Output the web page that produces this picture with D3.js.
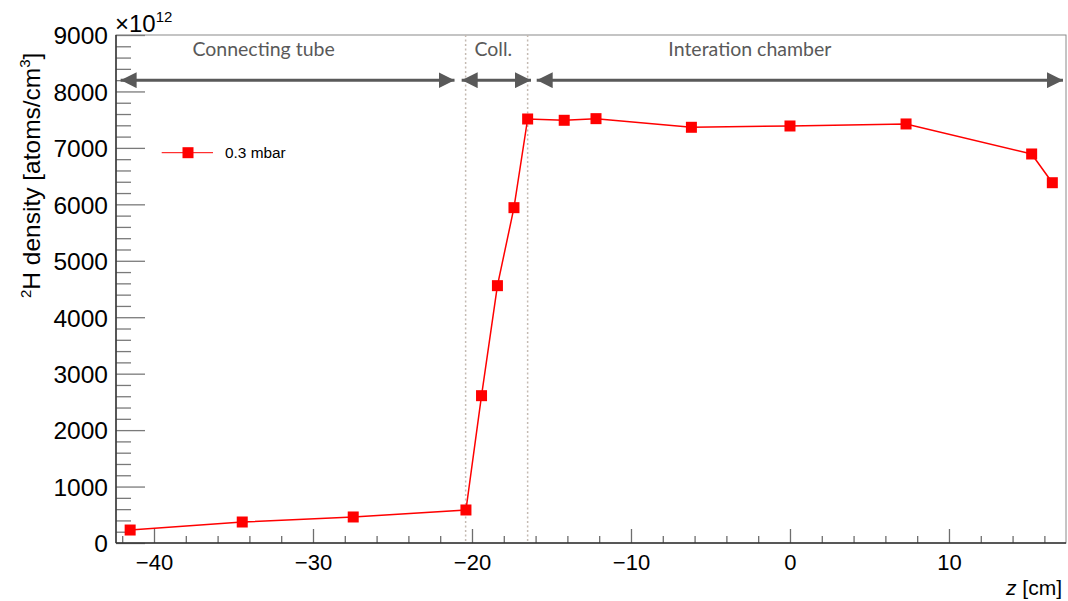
<!DOCTYPE html>
<html>
<head>
<meta charset="utf-8">
<script src="https://cdn.jsdelivr.net/npm/d3@7"></script>
<style>
  html, body { margin: 0; padding: 0; background: #fff; }
  svg { display: block; }
</style>
</head>
<body>
<svg id="chart" width="1068" height="601"></svg>
<script>
// Deuterium density profile along the target axis (0.3 mbar)
const zPositions = [-41.5, -34.45, -27.47, -20.38, -19.4, -18.4, -17.36, -16.5, -14.2, -12.2, -6.2, 0.0, 7.3, 15.2, 16.5];
const densities  = [230, 372, 461, 585, 2610, 4559, 5941, 7512, 7489, 7518, 7365, 7388, 7424, 6892, 6383];
const seriesLabel = "0.3 mbar";

// Region boundaries and labelled spans
const boundaries = [-20.4, -16.5];
const regionNames = ["Connecting tube", "Coll.", "Interation chamber"];
const regionStarts = [-42.1, -20.65, -15.93];
const regionEnds   = [-21.1, -16.29, 17.17];
const regionArrowLevel = 8200;

// Axis ticks
const xMajorTicks = [-40, -30, -20, -10, 0, 10];
const xMinorTicks = d3.range(-42, 17, 2);
const yMajorTicks = [0, 1000, 2000, 3000, 4000, 5000, 6000, 7000, 8000, 9000];
const yMinorTicks = d3.range(0, 9001, 200);

const svg = d3.select("#chart");
const frame = { left: 116, right: 1066, top: 35, bottom: 543 };

const x = d3.scaleLinear().domain([-42.39, 17.36]).range([frame.left, frame.right]);
const y = d3.scaleLinear().domain([0, 9000]).range([frame.bottom, frame.top]);

const tickFont = "'Liberation Sans', Arial, Helvetica, sans-serif";
const noteFont = "Lato, 'Open Sans', sans-serif";
const noteColor = "#595959";

// Frame
svg.append("rect")
  .attr("x", frame.left).attr("y", frame.top)
  .attr("width", frame.right - frame.left).attr("height", frame.bottom - frame.top)
  .attr("fill", "none").attr("stroke", "#8a8a8a").attr("stroke-width", 1);

// Y axis: inward ticks, labels on the left
const yAxisMinor = d3.axisRight(y).tickValues(yMinorTicks.filter(v => v % 1000 !== 0))
  .tickSize(15).tickFormat("");
const yAxisMajor = d3.axisRight(y).tickValues(yMajorTicks).tickSize(29).tickFormat("");
[yAxisMinor, yAxisMajor].forEach(ax => {
  const g = svg.append("g").attr("transform", `translate(${frame.left},0)`).call(ax);
  g.select(".domain").remove();
  g.selectAll(".tick line").attr("stroke", "#7a7a7a").attr("stroke-width", 1.3);
});
const yLabels = svg.append("g").attr("transform", `translate(${frame.left},0)`)
  .call(d3.axisLeft(y).tickValues(yMajorTicks).tickSize(0).tickPadding(8).tickFormat(d3.format("d")));
yLabels.select(".domain").remove();
yLabels.selectAll("text")
  .attr("font-family", tickFont).attr("font-size", 24.5).attr("fill", "#000")
  .attr("dy", "0.36em");

// X axis: inward ticks, labels below
const xAxisMinor = d3.axisTop(x).tickValues(xMinorTicks.filter(v => v % 10 !== 0))
  .tickSize(7).tickFormat("");
const xAxisMajor = d3.axisTop(x).tickValues(xMajorTicks).tickSize(14).tickFormat("");
[xAxisMinor, xAxisMajor].forEach(ax => {
  const g = svg.append("g").attr("transform", `translate(0,${frame.bottom})`).call(ax);
  g.select(".domain").remove();
  g.selectAll(".tick line").attr("stroke", "#6e6e6e").attr("stroke-width", 1.3);
});
const xLabels = svg.append("g").attr("transform", `translate(0,${frame.bottom})`)
  .call(d3.axisBottom(x).tickValues(xMajorTicks).tickSize(0).tickPadding(0)
    .tickFormat(d => d < 0 ? "\u2212" + Math.abs(d) : String(d)));
xLabels.select(".domain").remove();
xLabels.selectAll("text")
  .attr("font-family", tickFont).attr("font-size", 22).attr("fill", "#000")
  .attr("dy", null).attr("y", 27);

// Axis lines
svg.append("line").attr("x1", frame.left).attr("x2", frame.left)
  .attr("y1", frame.top).attr("y2", frame.bottom).attr("stroke", "#333").attr("stroke-width", 1.5);
svg.append("line").attr("x1", frame.left).attr("x2", frame.right)
  .attr("y1", frame.bottom).attr("y2", frame.bottom).attr("stroke", "#333").attr("stroke-width", 1.5);

// Exponent
const expo = svg.append("text").attr("x", frame.left - 1).attr("y", 32)
  .attr("font-family", tickFont).attr("font-size", 24).attr("fill", "#000");
expo.append("tspan").text("\u00d710");
expo.append("tspan").attr("font-size", 15).attr("dy", -10).text("12");

// Axis titles
const yTitle = svg.append("text")
  .attr("transform", "translate(39.5,298) rotate(-90)")
  .attr("font-family", tickFont).attr("font-size", 24.5).attr("fill", "#000");
yTitle.append("tspan").attr("font-size", 15).attr("dy", -9).text("2");
yTitle.append("tspan").attr("dy", 9).text("H density [atoms/cm");
yTitle.append("tspan").attr("font-size", 15).attr("dy", -10).text("3");
yTitle.append("tspan").attr("dy", 10).text("]");

const xTitle = svg.append("text").attr("x", 1062).attr("y", 595)
  .attr("text-anchor", "end")
  .attr("font-family", tickFont).attr("font-size", 21).attr("fill", "#000");
xTitle.append("tspan").attr("font-style", "italic").text("z");
xTitle.append("tspan").text(" [cm]");

// Region boundaries
svg.selectAll("line.boundary").data(boundaries).join("line")
  .attr("class", "boundary")
  .attr("x1", d => x(d)).attr("x2", d => x(d))
  .attr("y1", frame.top).attr("y2", frame.bottom)
  .attr("stroke", "#c4bab2").attr("stroke-width", 1.5).attr("stroke-dasharray", "2,2.5");

// Region spans: double-headed arrows and names
const defs = svg.append("defs");
defs.append("marker").attr("id", "head-end")
  .attr("viewBox", "0 0 16 16").attr("refX", 16).attr("refY", 8)
  .attr("markerWidth", 16).attr("markerHeight", 16).attr("markerUnits", "userSpaceOnUse")
  .attr("orient", "auto")
  .append("path").attr("d", "M0,0 L16,8 L0,16 Z").attr("fill", noteColor);
defs.append("marker").attr("id", "head-start")
  .attr("viewBox", "0 0 16 16").attr("refX", 0).attr("refY", 8)
  .attr("markerWidth", 16).attr("markerHeight", 16).attr("markerUnits", "userSpaceOnUse")
  .attr("orient", "auto")
  .append("path").attr("d", "M16,0 L0,8 L16,16 Z").attr("fill", noteColor);

const spans = regionNames.map((name, i) => ({ name, a: regionStarts[i], b: regionEnds[i] }));
svg.selectAll("line.span").data(spans).join("line")
  .attr("class", "span")
  .attr("x1", d => x(d.a)).attr("x2", d => x(d.b))
  .attr("y1", y(regionArrowLevel)).attr("y2", y(regionArrowLevel))
  .attr("stroke", noteColor).attr("stroke-width", 3)
  .attr("marker-start", "url(#head-start)").attr("marker-end", "url(#head-end)");
svg.selectAll("text.span").data(spans).join("text")
  .attr("class", "span")
  .attr("x", d => {
    const mid = x((d.a + d.b) / 2);
    return d.name === "Connecting tube" ? mid - 24 : (d.name === "Interation chamber" ? mid - 50 : mid - 3);
  })
  .attr("y", 56)
  .attr("text-anchor", "middle")
  .attr("font-family", noteFont).attr("font-size", 19.5).attr("fill", noteColor)
  .text(d => d.name);

// Data series
const points = zPositions.map((z, i) => ({ z, v: densities[i] }));
svg.append("path").datum(points)
  .attr("fill", "none").attr("stroke", "#ff0000").attr("stroke-width", 1.5)
  .attr("d", d3.line().x(d => x(d.z)).y(d => y(d.v)));
const ms = 11;
svg.selectAll("rect.pt").data(points).join("rect")
  .attr("class", "pt")
  .attr("x", d => x(d.z) - ms / 2).attr("y", d => y(d.v) - ms / 2)
  .attr("width", ms).attr("height", ms).attr("fill", "#ff0000");

// Legend
const lg = svg.append("g").attr("transform", "translate(188,152.7)");
lg.append("line").attr("x1", -26.3).attr("x2", 25).attr("y1", 0).attr("y2", 0)
  .attr("stroke", "#ff0000").attr("stroke-width", 1);
lg.append("rect").attr("x", -ms / 2).attr("y", -ms / 2).attr("width", ms).attr("height", ms)
  .attr("fill", "#ff0000");
lg.append("text").attr("x", 37).attr("y", 5.5)
  .attr("font-family", tickFont).attr("font-size", 15.4).attr("fill", "#000")
  .text(seriesLabel);
</script>
</body>
</html>
